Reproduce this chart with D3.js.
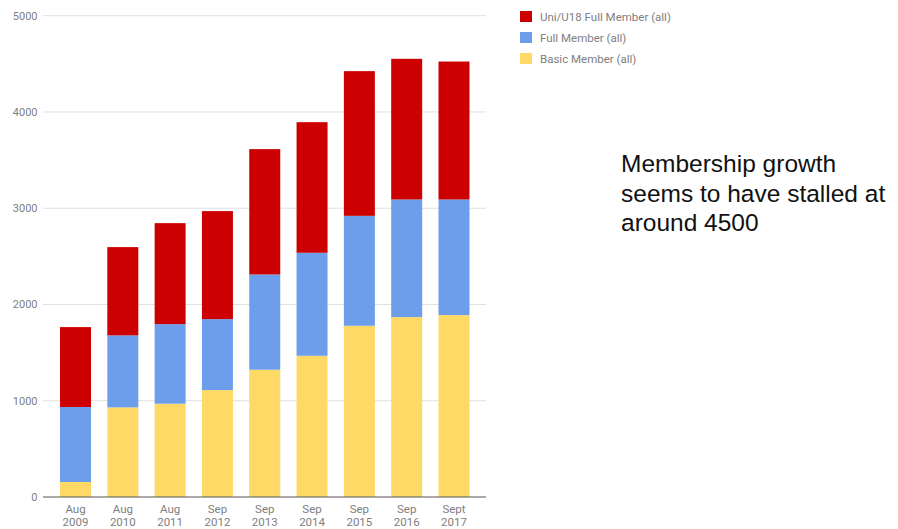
<!DOCTYPE html>
<html><head><meta charset="utf-8">
<script src="https://cdn.jsdelivr.net/npm/d3@7"></script>
<style>body{margin:0;background:#fff}svg{display:block}</style>
</head><body>
<svg id="c" width="898" height="529"></svg>
<script>
const categories = ["Aug 2009","Aug 2010","Aug 2011","Sep 2012","Sep 2013","Sep 2014","Sep 2015","Sep 2016","Sept 2017"];
const basic = [156, 931, 969, 1111, 1322, 1467, 1779, 1869, 1890];
const full = [779, 748, 827, 737, 990, 1070, 1142, 1222, 1201];
const uni = [830, 917, 1049, 1122, 1302, 1357, 1503, 1461, 1433];
const yTicks = [0, 1000, 2000, 3000, 4000, 5000];
const seriesNames = ["Uni/U18 Full Member (all)", "Full Member (all)", "Basic Member (all)"];
const seriesColors = ["#cc0000", "#6d9eeb", "#ffd966"];
const note = ["Membership growth", "seems to have stalled at", "around 4500"];

const svg = d3.select("#c");
const y = d3.scaleLinear().domain([0, 5000]).range([497, 15.7]);
const pi = 0.345;
const x = d3.scaleBand().domain(categories).range([51.85, 477.65]).paddingInner(pi).paddingOuter(pi/2);

// gridlines
svg.append("g").selectAll("line").data(yTicks.filter(d => d > 0)).join("line")
  .attr("x1", 43).attr("x2", 486).attr("y1", d => y(d)).attr("y2", d => y(d))
  .attr("stroke", "#e0e0e0").attr("stroke-width", 1);

// y labels
svg.append("g").selectAll("text").data(yTicks).join("text")
  .attr("x", 37.5).attr("y", d => y(d) + 4).attr("text-anchor", "end")
  .attr("font-family", "Roboto, sans-serif").attr("font-size", 11).attr("fill", "#808080")
  .text(d => d);

// stacked data
const rows = categories.map((c, i) => ({cat: c, basic: basic[i], full: full[i], uni: uni[i]}));
const stack = d3.stack().keys(["basic", "full", "uni"])(rows);
const colorByKey = {basic: seriesColors[2], full: seriesColors[1], uni: seriesColors[0]};

svg.append("g").selectAll("g").data(stack).join("g")
  .attr("fill", d => colorByKey[d.key])
  .selectAll("rect").data(d => d).join("rect")
  .attr("x", d => x(d.data.cat)).attr("width", x.bandwidth())
  .attr("y", d => y(d[1])).attr("height", d => y(d[0]) - y(d[1]));

// baseline
svg.append("line").attr("x1", 43).attr("x2", 486).attr("y1", y(0)).attr("y2", y(0))
  .attr("stroke", "#555").attr("stroke-width", 1);

// x labels
const xl = svg.append("g").selectAll("text").data(categories).join("text")
  .attr("x", d => x(d) + x.bandwidth()/2).attr("y", 513).attr("text-anchor", "middle")
  .attr("font-family", "Roboto, sans-serif").attr("font-size", 11.5).attr("fill", "#808080");
xl.each(function(d) {
  const parts = d.split(" ");
  const t = d3.select(this);
  t.append("tspan").attr("x", x(d) + x.bandwidth()/2).attr("dy", 0).text(parts[0]);
  t.append("tspan").attr("x", x(d) + x.bandwidth()/2).attr("dy", 12.5).text(parts[1]);
});

// legend
const lg = svg.append("g").selectAll("g").data(seriesNames).join("g")
  .attr("transform", (d, i) => `translate(520, ${16.5 + i * 21})`);
lg.append("rect").attr("x", 0).attr("y", -5.5).attr("width", 12).attr("height", 11)
  .attr("fill", (d, i) => seriesColors[i]);
lg.append("text").attr("x", 20).attr("y", 4)
  .attr("font-family", "Roboto, sans-serif").attr("font-size", 11.5).attr("fill", "#808080")
  .text(d => d);

// annotation
svg.append("g").selectAll("text").data(note).join("text")
  .attr("x", 621).attr("y", (d, i) => 172 + i * 29.5)
  .attr("font-family", "'Liberation Sans', Arial, sans-serif").attr("font-size", 24.5).attr("fill", "#111")
  .text(d => d);
</script>
</body></html>
